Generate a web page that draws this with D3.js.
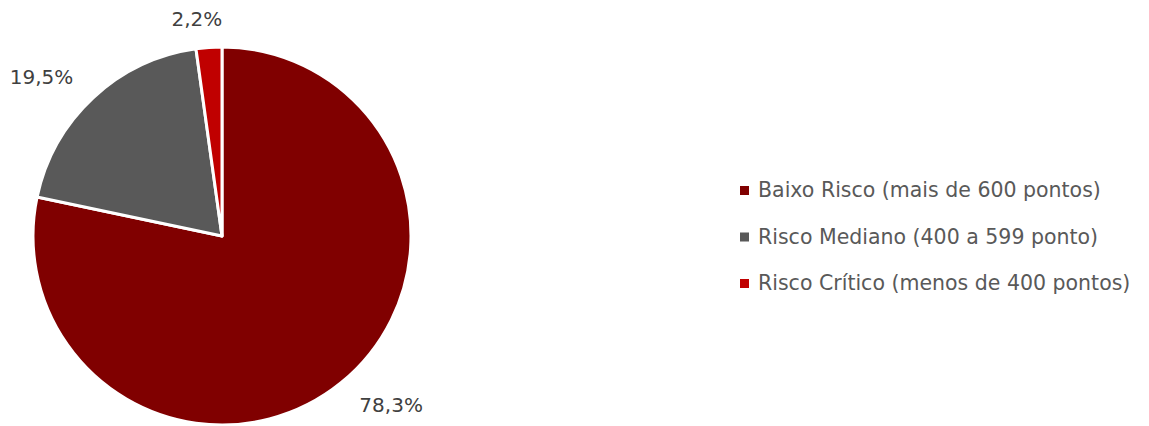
<!DOCTYPE html>
<html>
<head>
<meta charset="utf-8">
<script src="https://cdn.jsdelivr.net/npm/d3@7"></script>
<style>
  body { margin: 0; background: #fff; }
  svg { display: block; font-family: "DejaVu Sans", sans-serif; }
</style>
</head>
<body>
<div id="chart"></div>
<script>
// data
const categories = ['Baixo Risco (mais de 600 pontos)', 'Risco Mediano (400 a 599 ponto)', 'Risco Crítico (menos de 400 pontos)'];
const values = [78.3, 19.5, 2.2];
const labels = ['78,3%', '19,5%', '2,2%'];
const colors = ['#800000', '#595959', '#C00000'];

const width = 1149, height = 426;
const cx = 222, cy = 236, radius = 189;
const labelRadius = 218;

const svg = d3.select('#chart').append('svg')
  .attr('width', width)
  .attr('height', height);

const pie = d3.pie().sort(null).value(d => d);
const arcs = pie(values);
const arc = d3.arc().innerRadius(0).outerRadius(radius);
const labelArc = d3.arc().innerRadius(labelRadius).outerRadius(labelRadius);

const g = svg.append('g').attr('transform', `translate(${cx},${cy})`);

g.selectAll('path')
  .data(arcs)
  .enter().append('path')
  .attr('d', arc)
  .attr('fill', (d, i) => colors[i])
  .attr('stroke', '#fff')
  .attr('stroke-width', 3)
  .attr('stroke-linejoin', 'round');

// data labels outside end
g.selectAll('text.lbl')
  .data(arcs)
  .enter().append('text')
  .attr('class', 'lbl')
  .attr('transform', d => {
    const [x, y] = labelArc.centroid(d);
    const s = Math.sin((d.startAngle + d.endAngle) / 2);
    // Excel nudges the small top label a bit to the left
    return `translate(${Math.abs(s) < 0.3 ? x - 10 : x},${y})`;
  })
  .attr('text-anchor', d => {
    const s = Math.sin((d.startAngle + d.endAngle) / 2);
    return Math.abs(s) < 0.3 ? 'middle' : (s > 0 ? 'start' : 'end');
  })
  .attr('dy', '0.35em')
  .style('font-size', '20px')
  .style('fill', '#404040')
  .text((d, i) => labels[i]);

// legend
const legend = svg.append('g').attr('transform', 'translate(740,190)');
const rowH = 46.5;
const item = legend.selectAll('g')
  .data(categories)
  .enter().append('g')
  .attr('transform', (d, i) => `translate(0,${i * rowH})`);

item.append('rect')
  .attr('x', 0).attr('y', -4)
  .attr('width', 9).attr('height', 9)
  .attr('fill', (d, i) => colors[i]);

item.append('text')
  .attr('x', 18)
  .attr('dy', '0.35em')
  .style('font-size', '20.5px')
  .style('fill', '#595959')
  .text(d => d);
</script>
</body>
</html>
